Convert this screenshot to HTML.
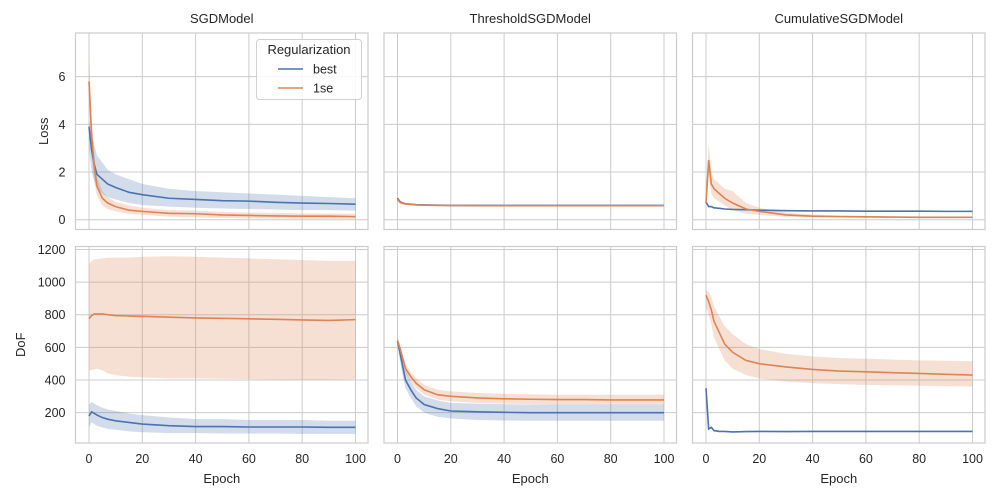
<!DOCTYPE html>
<html><head><meta charset="utf-8"><style>
body{margin:0;background:#fff;}
svg{display:block;font-family:"Liberation Sans","DejaVu Sans",sans-serif;}
</style></head><body>
<svg id="c" width="1000" height="500" xmlns="http://www.w3.org/2000/svg"></svg>
<script>
const epochs=[0,1,2,3,5,7,10,15,20,30,40,50,60,70,80,90,100];
// Loss panels
const sgdLossBest=[3.9,2.9,2.3,1.9,1.7,1.5,1.35,1.15,1.05,0.9,0.85,0.8,0.78,0.73,0.7,0.68,0.65];
const sgdLossBestLo=[3.0,2.0,1.6,1.3,1.1,0.95,0.85,0.7,0.62,0.55,0.5,0.47,0.45,0.43,0.4,0.4,0.38];
const sgdLossBestHi=[4.2,3.6,3.1,2.7,2.4,2.1,1.9,1.7,1.5,1.3,1.2,1.15,1.1,1.05,1.0,0.95,0.9];
const sgdLoss1se=[5.8,3.5,2.2,1.4,0.9,0.7,0.55,0.4,0.35,0.27,0.25,0.2,0.18,0.16,0.15,0.15,0.13];
const sgdLoss1seLo=[5.3,2.6,1.6,1.0,0.6,0.45,0.35,0.25,0.2,0.13,0.1,0.07,0.05,0.05,0.04,0.04,0.03];
const sgdLoss1seHi=[7.0,4.3,2.8,1.8,1.2,0.95,0.75,0.6,0.5,0.4,0.38,0.33,0.3,0.28,0.27,0.26,0.25];
const thrLossBest=[0.9,0.75,0.7,0.67,0.65,0.63,0.62,0.61,0.6,0.6,0.6,0.6,0.6,0.6,0.6,0.6,0.6];
const thrLoss1se=[0.85,0.72,0.68,0.66,0.64,0.62,0.61,0.6,0.6,0.59,0.59,0.59,0.59,0.59,0.59,0.59,0.59];
const cumLossBest=[0.75,0.55,0.55,0.5,0.48,0.45,0.43,0.42,0.4,0.38,0.37,0.37,0.36,0.36,0.36,0.35,0.35];
const cumLoss1se=[0.7,2.5,1.5,1.3,1.1,0.9,0.7,0.45,0.35,0.2,0.15,0.13,0.12,0.11,0.1,0.1,0.1];
const cumLoss1seLo=[0.5,1.8,1.1,0.9,0.75,0.6,0.4,0.25,0.2,0.12,0.1,0.09,0.08,0.08,0.07,0.07,0.07];
const cumLoss1seHi=[1.0,3.2,2.0,1.7,1.5,1.3,1.2,0.7,0.5,0.3,0.22,0.18,0.16,0.14,0.13,0.13,0.13];
// DoF panels
const sgdDofBest=[180,205,195,185,170,160,150,140,130,120,115,115,112,112,112,110,110];
const sgdDofBestLo=[110,140,130,120,110,100,95,85,80,75,75,72,72,72,70,70,70];
const sgdDofBestHi=[250,265,255,245,230,220,210,195,185,170,160,160,155,155,155,150,150];
const sgdDof1se=[775,795,805,805,805,800,795,792,790,785,780,778,775,772,768,765,770];
const sgdDof1seLo=[460,460,465,470,460,440,430,420,415,410,410,408,405,402,400,400,405];
const sgdDof1seHi=[1110,1130,1140,1140,1145,1150,1150,1150,1155,1158,1155,1150,1145,1140,1135,1130,1130];
const thrDofBest=[640,560,480,400,340,290,250,225,210,205,202,200,200,200,200,200,200];
const thrDofBestLo=[610,510,420,350,290,240,200,175,165,155,152,150,150,150,150,150,150];
const thrDofBestHi=[660,610,540,460,390,340,300,275,260,255,252,250,250,250,250,250,250];
const thrDof1se=[640,590,530,470,420,380,340,310,300,290,285,282,280,280,278,278,278];
const thrDof1seLo=[620,560,500,440,390,350,310,280,270,260,255,252,250,250,250,250,250];
const thrDof1seHi=[660,620,560,500,450,410,370,340,330,320,315,312,310,310,310,310,310];
const cumDofBest=[350,100,110,90,85,85,82,84,85,84,85,85,85,85,85,85,85];
const cumDof1se=[920,880,830,760,690,620,570,520,500,480,465,455,450,445,440,435,430];
const cumDof1seLo=[850,800,740,660,590,520,470,430,410,390,380,375,370,368,365,362,360];
const cumDof1seHi=[950,940,910,850,790,730,680,620,590,560,545,535,530,525,520,518,515];

const xTicks=[0,20,40,60,80,100];
const lossTicks=[0,2,4,6];
const dofTicks=[200,400,600,800,1000,1200];
const titles=["SGDModel","ThresholdSGDModel","CumulativeSGDModel"];
const BLUE="#4c72b0",ORANGE="#dd8452";
const NS="http://www.w3.org/2000/svg";
const svg=document.getElementById('c');
function mk(tag,attrs,parent){const e=document.createElementNS(NS,tag);for(const k in attrs)e.setAttribute(k,attrs[k]);(parent||svg).appendChild(e);return e;}

const cols=[75.5,384,692.5], W=292.5;
const rows=[{top:33,bot:229.5,min:-0.41,max:7.83,ticks:lossTicks,label:"Loss"},
            {top:246.5,bot:443,min:14,max:1218,ticks:dofTicks,label:"DoF"}];
const panels=[
 [[sgdLossBest,sgdLossBestLo,sgdLossBestHi],[sgdLoss1se,sgdLoss1seLo,sgdLoss1seHi]],
 [[thrLossBest,null,null],[thrLoss1se,null,null]],
 [[cumLossBest,null,null],[cumLoss1se,cumLoss1seLo,cumLoss1seHi]],
 [[sgdDofBest,sgdDofBestLo,sgdDofBestHi],[sgdDof1se,sgdDof1seLo,sgdDof1seHi]],
 [[thrDofBest,thrDofBestLo,thrDofBestHi],[thrDof1se,thrDof1seLo,thrDof1seHi]],
 [[cumDofBest,null,null],[cumDof1se,cumDof1seLo,cumDof1seHi]]
];
for(let r=0;r<2;r++)for(let c=0;c<3;c++){
  const R=rows[r],L=cols[c];
  const xs=e=>L+13.5+e*2.665;
  const ys=v=>R.bot-(v-R.min)/(R.max-R.min)*(R.bot-R.top);
  const g=mk('g',{});
  
  
  mk('rect',{x:L,y:R.top,width:W,height:R.bot-R.top,fill:'#fff',stroke:'#cccccc','stroke-width':1.2},g);
  xTicks.forEach(t=>{mk('line',{x1:xs(t),x2:xs(t),y1:R.top,y2:R.bot,stroke:'#cccccc','stroke-width':1},g);
    if(r==1){const tx=mk('text',{x:xs(t),y:R.bot+20,'text-anchor':'middle','font-size':12.5,fill:'#262626'},g);tx.textContent=t;}});
  R.ticks.forEach(t=>{mk('line',{x1:L,x2:L+W,y1:ys(t),y2:ys(t),stroke:'#cccccc','stroke-width':1},g);
    if(c==0){const tx=mk('text',{x:L-10,y:ys(t)+4.5,'text-anchor':'end','font-size':12.5,fill:'#262626'},g);tx.textContent=t;}});
  const series=panels[r*3+c];
  [1,0].forEach(si=>{const [m,lo,hi]=series[si];const col=si?ORANGE:BLUE;
    if(lo){let d=epochs.map((e,i)=>(i?'L':'M')+xs(e)+','+ys(hi[i])).join('')+epochs.slice().reverse().map((e,j)=>{const i=epochs.length-1-j;return 'L'+xs(e)+','+ys(lo[i]);}).join('')+'Z';
      const p=mk('path',{d:d,fill:col,'fill-opacity':0.25,stroke:'none'},g);
      }
  });
  [0,1].forEach(si=>{const m=series[si][0];const col=si?ORANGE:BLUE;
    const p=mk('polyline',{points:epochs.map((e,i)=>xs(e)+','+ys(m[i])).join(' '),fill:'none',stroke:col,'stroke-width':1.6},g);
    });
  if(r==0){const t=mk('text',{x:L+W/2,y:23,'text-anchor':'middle','font-size':13,fill:'#262626'});t.textContent=titles[c];
    }
  else{const t=mk('text',{x:L+W/2,y:483,'text-anchor':'middle','font-size':13,fill:'#262626'});t.textContent='Epoch';
    }
  if(c==0){const cy=(R.top+R.bot)/2;const t=mk('text',{x:0,y:0,'text-anchor':'middle','font-size':13,fill:'#262626',transform:`translate(${r==0?48:25},${cy}) rotate(-90)`});t.textContent=R.label;
    }
}
// legend
const lg=mk('g',{});


mk('rect',{x:256.5,y:39.5,width:105,height:60,rx:3,fill:'#fff','fill-opacity':0.85,stroke:'#d0d0d0'},lg);
const lt=mk('text',{x:309,y:54,'text-anchor':'middle','font-size':13,fill:'#262626'},lg);lt.textContent='Regularization';
[['best',BLUE,69],['1se',ORANGE,88]].forEach(([n,col,y])=>{
  const e=mk('g',{},lg);
  
  
  mk('line',{x1:278,x2:303,y1:y,y2:y,stroke:col,'stroke-width':1.6},e);
  const t=mk('text',{x:313,y:y+4.5,'font-size':12.5,fill:'#262626'},e);t.textContent=n;});
</script>
</body></html>
